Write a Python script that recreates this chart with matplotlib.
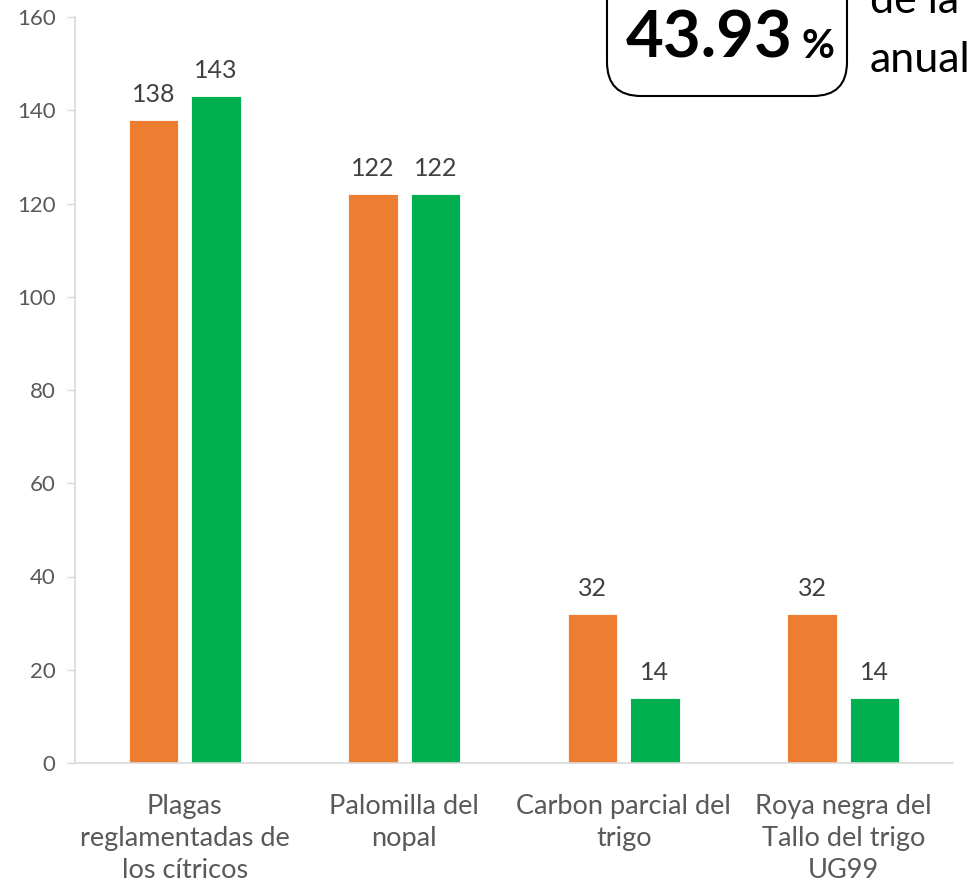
import matplotlib
matplotlib.use("Agg")
import matplotlib.pyplot as plt
from matplotlib.patches import FancyBboxPatch
import numpy as np

plt.rcParams['font.family'] = ['Lato', 'DejaVu Sans']

categories = ["Plagas\nreglamentadas de\nlos cítricos", "Palomilla del\nnopal",
              "Carbon parcial del\ntrigo", "Roya negra del\nTallo del trigo\nUG99"]
serie_naranja = [138, 122, 32, 32]
serie_verde = [143, 122, 14, 14]
yticks = [0, 20, 40, 60, 80, 100, 120, 140, 160]

W, H = 971, 885
fig = plt.figure(figsize=(W / 100, H / 100), dpi=100)
ax = fig.add_axes([75 / W, 1 - 763 / H, (953 - 75) / W, (763 - 17) / H])

x = np.arange(len(categories))
bw = 0.225
off = 0.142
b1 = ax.bar(x - off, serie_naranja, bw, color="#ED7D31", edgecolor="white", linewidth=0.6)
b2 = ax.bar(x + off, serie_verde, bw, color="#00B050", edgecolor="white", linewidth=0.6)
for bars in (b1, b2):
    ax.bar_label(bars, padding=10, fontsize=18, color="#404040")

ax.set_xlim(-0.5, 3.5)
ax.set_ylim(0, 160)
ax.set_yticks(yticks)
ax.set_xticks(x)
ax.set_xticklabels(categories, fontsize=19.5, color="#595959", linespacing=1.37)
ax.tick_params(axis='x', length=0, pad=22)
ax.tick_params(axis='y', length=6, width=1, color="#D9D9D9", labelsize=16,
               labelcolor="#595959", pad=8)
for s in ("top", "right"):
    ax.spines[s].set_visible(False)
for s in ("left", "bottom"):
    ax.spines[s].set_color("#D9D9D9")
    ax.spines[s].set_linewidth(1.2)

# rounded box at top right
box = FancyBboxPatch((607 / W, 1 - 96 / H), (847 - 607) / W, 140 / H,
                     boxstyle="round,pad=0,rounding_size=0.035",
                     transform=fig.transFigure, facecolor="white", edgecolor="black",
                     linewidth=1.5, clip_on=False, mutation_aspect=W / H)
fig.patches.append(box)
fig.text(626 / W, 1 - 58 / H, "43.93", fontsize=47, fontweight="bold", color="black",
         ha="left", va="baseline")
fig.text(801 / W, 1 - 58 / H, "%", fontsize=29, fontweight="bold", color="black",
         ha="left", va="baseline")
fig.text(870 / W, 1 - 13 / H, "de la", fontsize=31, color="black", ha="left", va="baseline")
fig.text(870 / W, 1 - 72 / H, "anual", fontsize=31, color="black", ha="left", va="baseline")

fig.savefig("out.png", dpi=100)
